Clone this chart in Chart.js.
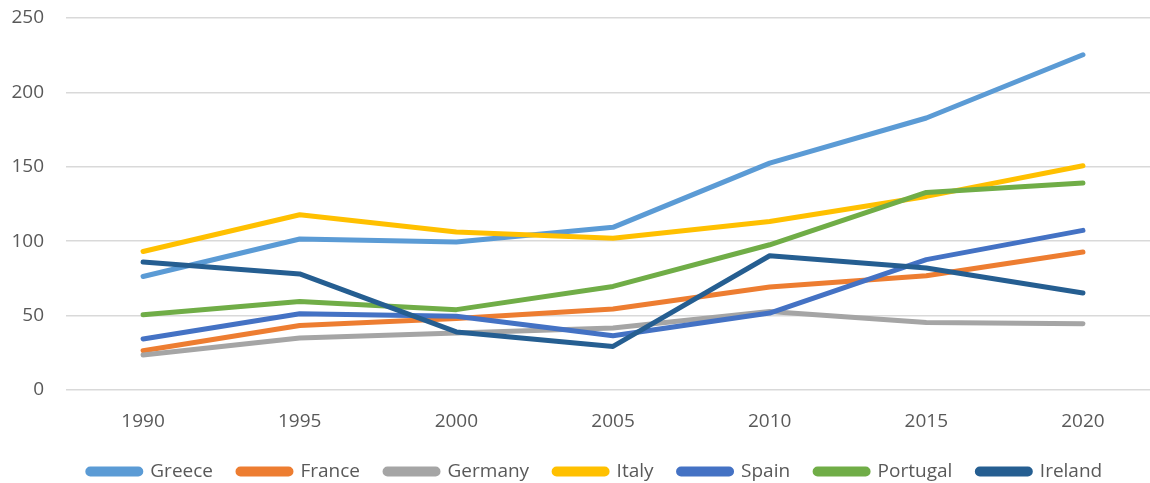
<!DOCTYPE html>
<html>
<head>
<meta charset="utf-8">
<script src="https://cdn.jsdelivr.net/npm/chart.js@4/dist/chart.umd.min.js"></script>
<style>
  html, body { margin: 0; padding: 0; background: #fff; }
  #wrap { width: 1150px; height: 483px; }
</style>
</head>
<body>
<div id="wrap"><canvas id="chart"></canvas></div>
<script>
const years = [1990, 1995, 2000, 2005, 2010, 2015, 2020]

const greece   = [76.3, 101.5, 99.5, 109.3, 152.5, 182.8, 225.3]
const france   = [26.4, 43.4, 48.0, 54.4, 69.2, 76.8, 92.7]
const germany  = [23.5, 35.0, 38.3, 41.7, 52.8, 45.4, 44.6]
const italy    = [93.1, 117.8, 106.2, 102.0, 113.3, 130.1, 150.7]
const spain    = [34.3, 51.3, 49.5, 36.5, 51.7, 87.6, 107.3]
const portugal = [50.6, 59.5, 54.0, 69.6, 97.6, 132.8, 139.1]
const ireland  = [86.0, 78.0, 39.0, 29.3, 90.2, 82.0, 65.2]

const yTicks = [0, 50, 100, 150, 200, 250]

const series = [
  ["Greece", greece, "#5B9BD5"],
  ["France", france, "#ED7D31"],
  ["Germany", germany, "#A5A5A5"],
  ["Italy", italy, "#FFC000"],
  ["Spain", spain, "#4472C4"],
  ["Portugal", portugal, "#70AD47"],
  ["Ireland", ireland, "#255E91"]
]

const textColor = "#595959"
const fontFamily = "'Open Sans', 'Liberation Sans', sans-serif"

const datasets = series.map(([label, values, color], i) => ({
  label: label,
  data: years.map((yr, k) => ({ x: yr, y: values[k] })),
  borderColor: color,
  backgroundColor: color,
  borderWidth: 5,
  borderCapStyle: "round",
  borderJoinStyle: "round",
  pointRadius: 0,
  tension: 0,
  // later series sit on top, like the spreadsheet default
  order: series.length - i
}))

// nudge the legend row a bit to the right
const legendShift = {
  id: "legendShift",
  afterLayout(chart) {
    if (!chart.legend) return
    chart.legend.left += 20
    chart.legend.right += 20
  }
}

new Chart(document.getElementById("chart").getContext("2d"), {
  type: "line",
  data: { datasets: datasets },
  plugins: [legendShift],
  options: {
    responsive: true,
    maintainAspectRatio: false,
    animation: false,
    layout: { padding: { top: 18, right: 0, left: 0, bottom: -8 } },
    scales: {
      x: {
        type: "linear",
        // plot area is cut off on the right, so the range runs past 2020
        min: 1987.54,
        max: 2022.14,
        afterFit: (scale) => { scale.height = 47 },
        afterBuildTicks: (scale) => { scale.ticks = years.map(v => ({ value: v })) },
        grid: { display: false, drawTicks: false },
        border: { display: false },
        ticks: {
          color: textColor,
          padding: 20,
          maxRotation: 0,
          font: { family: fontFamily, size: 19 },
          callback: (v) => String(v)
        }
      },
      y: {
        min: 0,
        max: 250,
        afterFit: (scale) => {
          scale.width = 66
          scale.paddingTop = 0
          scale.paddingBottom = 0
        },
        afterBuildTicks: (scale) => { scale.ticks = yTicks.map(v => ({ value: v })) },
        grid: { color: "#D9D9D9", lineWidth: 1.5, drawTicks: false },
        border: { display: false },
        ticks: {
          color: textColor,
          padding: 22,
          font: { family: fontFamily, size: 19 }
        }
      }
    },
    plugins: {
      legend: {
        display: true,
        position: "bottom",
        labels: {
          color: textColor,
          font: { family: fontFamily, size: 19 },
          boxWidth: 53,
          boxHeight: 5,
          useBorderRadius: true,
          borderRadius: 2.5,
          padding: 25,
          sort: (a, b) => a.datasetIndex - b.datasetIndex
        }
      },
      tooltip: { enabled: false }
    }
  }
})
</script>
</body>
</html>
